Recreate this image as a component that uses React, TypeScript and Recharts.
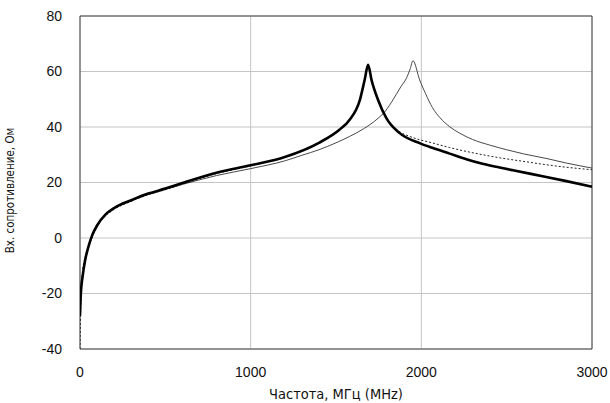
import { LineChart, Line, XAxis, YAxis, CartesianGrid, ReferenceArea } from "recharts"

// Input impedance vs frequency, three model variants
const freqTick = [0, 1000, 2000, 3000]
const zTick = [-40, -20, 0, 20, 40, 60, 80]

// heavy curve, resonance near 1690 MHz
const freqMain = [0, 5, 15, 30, 50, 75, 100, 150, 200, 300, 400, 500, 600, 800, 1000, 1200, 1400, 1520, 1580, 1640, 1668, 1688, 1708, 1746, 1795, 1873, 1990, 2068, 2166, 2264, 2342, 2459, 2537, 2732, 2850, 3000]
const zMain = [-28, -20, -14, -8, -3, 1.5, 4.5, 8.5, 10.8, 13.6, 16, 17.8, 19.8, 23.5, 26.2, 29.2, 34.3, 39, 42.6, 49.8, 57, 62.4, 57, 49.8, 43.2, 37.8, 34.2, 32.4, 30.4, 28.4, 27, 25.4, 24.4, 22, 20.5, 18.5]

// thin curve, resonance shifted to ~1950 MHz
const freqShift = [0, 5, 15, 30, 50, 75, 100, 150, 200, 300, 400, 500, 600, 800, 1000, 1200, 1300, 1400, 1500, 1580, 1660, 1740, 1790, 1834, 1880, 1912, 1935, 1951, 1990, 2025, 2065, 2110, 2166, 2224, 2300, 2400, 2500, 2600, 2730, 2850, 3000]
const zShift = [-28, -20, -14, -8, -3, 1.5, 4.5, 8.3, 10.6, 13.4, 15.7, 17.5, 19.3, 22.5, 25, 27.8, 29.8, 31.8, 34.3, 36.6, 39.3, 42.8, 45.8, 49.8, 54.5, 57.5, 61, 63.9, 57, 52, 47, 43.3, 40.1, 37.8, 35.5, 33.5, 31.8, 30.3, 28.7, 27, 25.2]

// dotted curve, same resonance as the heavy one
const freqRef = [0, 3, 8, 15, 30, 50, 75, 100, 150, 200, 300, 400, 500, 600, 800, 1000, 1200, 1400, 1520, 1580, 1640, 1668, 1688, 1708, 1746, 1795, 1873, 1932, 2068, 2166, 2264, 2360, 2459, 2600, 2732, 2850, 3000]
const zRef = [-40, -28, -18, -12, -7, -3, 0.8, 4, 8, 10.3, 13.2, 15.6, 17.4, 19.4, 23.2, 26, 29, 34.1, 38.8, 42.4, 49.6, 56.8, 62, 57, 49.8, 43.4, 38.3, 36.6, 34.2, 32.6, 31.2, 30, 28.9, 27.6, 26.4, 25.5, 24.6]

const toPoints = (f: number[], z: number[]) => f.map((freq, i) => ({ freq, z: z[i] }))

const titleFont = "'Liberation Sans Narrow', 'DejaVu Sans Condensed', sans-serif"
const tickStyle = { fill: "#111", fontSize: 14, fontFamily: "'Liberation Sans', Arial, sans-serif" }

export default function App() {
  return (
    <div style={{ position: "absolute", left: 0, top: 0, background: "#fff" }}>
      <LineChart width={610} height={403} margin={{ top: 16, right: 18, bottom: 0, left: 0 }}>
        <CartesianGrid stroke="#c4c4c4" strokeWidth={1} />
        <XAxis
          dataKey="freq"
          type="number"
          domain={[0, 3000]}
          ticks={freqTick}
          allowDataOverflow
          height={54}
          tickLine={false}
          tickSize={0}
          tickMargin={18}
          axisLine={false}
          tick={tickStyle}
          label={{
            value: "Частота, МГц (MHz)",
            position: "insideBottom",
            offset: 4,
            style: { fill: "#111", fontSize: 14.5, fontFamily: titleFont },
          }}
        />
        <YAxis
          type="number"
          domain={[-40, 80]}
          ticks={zTick}
          allowDataOverflow
          width={80}
          tickLine={false}
          tickSize={0}
          tickMargin={18}
          axisLine={false}
          tick={tickStyle}
          label={{
            value: "Вх. сопротивление, Ом",
            angle: -90,
            position: "insideLeft",
            offset: 10,
            dy: 8,
            style: { fill: "#111", fontSize: 11.5, fontFamily: titleFont, textAnchor: "middle" },
          }}
        />
        <ReferenceArea x1={0} x2={3000} y1={-40} y2={80} fill="none" stroke="#444" strokeWidth={1} />
        <Line
          data={toPoints(freqRef, zRef)}
          dataKey="z"
          type="monotone"
          stroke="#222"
          strokeWidth={1}
          strokeDasharray="2 2"
          dot={false}
          isAnimationActive={false}
        />
        <Line
          data={toPoints(freqShift, zShift)}
          dataKey="z"
          type="monotone"
          stroke="#333"
          strokeWidth={0.9}
          dot={false}
          isAnimationActive={false}
        />
        <Line
          data={toPoints(freqMain, zMain)}
          dataKey="z"
          type="monotone"
          stroke="#000"
          strokeWidth={2.6}
          dot={false}
          isAnimationActive={false}
        />
      </LineChart>
    </div>
  )
}
